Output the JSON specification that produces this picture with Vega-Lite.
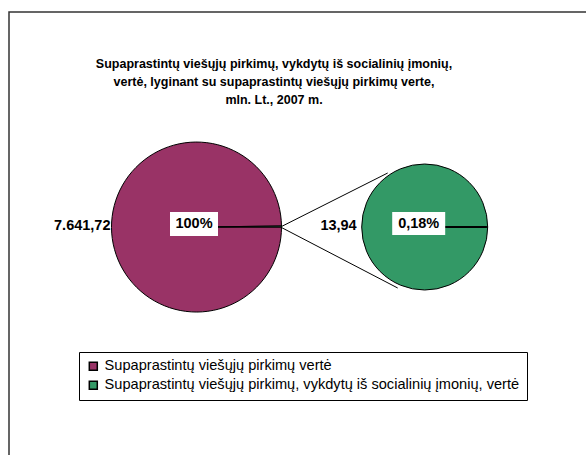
{
  "$schema": "https://vega.github.io/schema/vega-lite/v6.json",
  "width": 600,
  "height": 460,
  "autosize": {"type": "none"},
  "padding": {"left": 9, "top": 12, "right": 0, "bottom": 0},
  "background": "white",
  "title": {
    "text": ["Supaprastintų viešųjų pirkimų, vykdytų iš socialinių įmonių,", "vertė, lyginant su supaprastintų viešųjų pirkimų verte,", "mln. Lt., 2007 m."],
    "font": "Liberation Sans",
    "fontSize": 12.5,
    "fontWeight": "bold",
    "color": "black",
    "lineHeight": 18,
    "anchor": "middle",
    "frame": "group",
    "dx": -35,
    "offset": -94.5
  },
  "datasets": {
    "slices": [
      {"pie": "main", "name": "Supaprastintų viešųjų pirkimų vertė", "value": 7641.72},
      {"pie": "main", "name": "Supaprastintų viešųjų pirkimų, vykdytų iš socialinių įmonių, vertė", "value": 13.94},
      {"pie": "sub", "name": "Supaprastintų viešųjų pirkimų, vykdytų iš socialinių įmonių, vertė", "value": 13.94}
    ],
    "pies": [
      {"pie": "main", "name": "Supaprastintų viešųjų pirkimų vertė", "value": 7641.72, "share": 1},
      {"pie": "sub", "name": "Supaprastintų viešųjų pirkimų, vykdytų iš socialinių įmonių, vertė", "value": 13.94, "share": 0.0018}
    ],
    "links": [
      {"from": "main", "to": "sub"}
    ]
  },
  "layer": [
    {
      "data": {"name": "links"},
      "mark": {"type": "rule", "color": "black", "strokeWidth": 1, "xOffset": 84, "x2Offset": -37, "y2Offset": -54},
      "encoding": {
        "x": {"field": "from", "type": "nominal", "scale": {"type": "point", "domain": ["main", "sub"], "range": [187.5, 415.7], "padding": 0}, "axis": null},
        "x2": {"field": "to"},
        "y": {"field": "from", "type": "nominal", "scale": {"type": "point", "domain": ["main", "sub"], "range": [215, 215], "padding": 0}, "axis": null},
        "y2": {"field": "to"}
      }
    },
    {
      "data": {"name": "links"},
      "mark": {"type": "rule", "color": "black", "strokeWidth": 1, "xOffset": 84, "x2Offset": -27, "y2Offset": 61},
      "encoding": {
        "x": {"field": "from", "type": "nominal", "axis": null},
        "x2": {"field": "to"},
        "y": {"field": "from", "type": "nominal", "axis": null},
        "y2": {"field": "to"}
      }
    },
    {
      "data": {"name": "slices"},
      "transform": [{"filter": "datum.pie == 'main'"}],
      "mark": {"type": "arc", "radius": 85, "stroke": "black", "strokeWidth": 1},
      "encoding": {
        "x": {"field": "pie", "type": "nominal", "axis": null},
        "y": {"field": "pie", "type": "nominal", "axis": null},
        "theta": {"field": "value", "type": "quantitative", "stack": "normalize", "scale": {"range": [1.5707963, 7.8539816]}},
        "color": {
          "field": "name", "type": "nominal",
          "scale": {"domain": ["Supaprastintų viešųjų pirkimų vertė", "Supaprastintų viešųjų pirkimų, vykdytų iš socialinių įmonių, vertė"], "range": ["#993366", "#339966"]},
          "legend": {
            "title": null,
            "orient": "none",
            "legendX": 70,
            "legendY": 340,
            "padding": 7,
            "strokeColor": "black",
            "fillColor": "white",
            "symbolType": "square",
            "symbolSize": 64,
            "symbolStrokeColor": "black",
            "symbolStrokeWidth": 1.5,
            "labelFont": "Liberation Sans",
            "labelFontSize": 14.6,
            "labelColor": "black",
            "labelLimit": 600,
            "labelOffset": 4,
            "rowPadding": 3
          }
        }
      }
    },
    {
      "data": {"name": "slices"},
      "transform": [{"filter": "datum.pie == 'sub'"}],
      "mark": {"type": "arc", "radius": 63, "stroke": "black", "strokeWidth": 1},
      "encoding": {
        "x": {"field": "pie", "type": "nominal", "axis": null},
        "y": {"field": "pie", "type": "nominal", "axis": null},
        "theta": {"field": "value", "type": "quantitative", "stack": "normalize"},
        "color": {"field": "name", "type": "nominal"}
      }
    },
    {
      "data": {"name": "pies"},
      "transform": [{"filter": "datum.pie == 'sub'"}],
      "mark": {"type": "rule", "color": "black", "strokeWidth": 2, "x2Offset": 62},
      "encoding": {
        "x": {"field": "pie", "type": "nominal", "axis": null},
        "x2": {"field": "pie"},
        "y": {"field": "pie", "type": "nominal", "axis": null},
        "y2": {"field": "pie"}
      }
    },
    {
      "data": {"name": "pies"},
      "transform": [{"filter": "datum.pie == 'main'"}],
      "mark": {"type": "point", "filled": true, "fill": "white", "opacity": 1, "strokeWidth": 0, "shape": "M-1,-0.5H1V0.5H-1Z", "size": 2304, "xOffset": -2.5, "yOffset": -3},
      "encoding": {
        "x": {"field": "pie", "type": "nominal", "axis": null},
        "y": {"field": "pie", "type": "nominal", "axis": null}
      }
    },
    {
      "data": {"name": "pies"},
      "transform": [{"filter": "datum.pie == 'sub'"}],
      "mark": {"type": "point", "filled": true, "fill": "white", "opacity": 1, "strokeWidth": 0, "shape": "M-1,-0.434H1V0.434H-1Z", "size": 2809, "xOffset": -6, "yOffset": -3.5},
      "encoding": {
        "x": {"field": "pie", "type": "nominal", "axis": null},
        "y": {"field": "pie", "type": "nominal", "axis": null}
      }
    },
    {
      "data": {"name": "pies"},
      "transform": [{"filter": "datum.pie == 'main'"}],
      "mark": {"type": "text", "font": "Liberation Sans", "fontSize": 14.5, "fontWeight": "bold", "color": "black", "align": "center", "baseline": "middle", "xOffset": -2.5, "yOffset": -3},
      "encoding": {
        "x": {"field": "pie", "type": "nominal", "axis": null},
        "y": {"field": "pie", "type": "nominal", "axis": null},
        "text": {"field": "share", "type": "quantitative", "format": ".2~%"}
      }
    },
    {
      "data": {"name": "pies"},
      "transform": [{"filter": "datum.pie == 'sub'"}],
      "mark": {"type": "text", "font": "Liberation Sans", "fontSize": 14.5, "fontWeight": "bold", "color": "black", "align": "center", "baseline": "middle", "xOffset": -6, "yOffset": -3.5},
      "encoding": {
        "x": {"field": "pie", "type": "nominal", "axis": null},
        "y": {"field": "pie", "type": "nominal", "axis": null},
        "text": {"field": "share", "type": "quantitative", "format": ".2~%"}
      }
    },
    {
      "data": {"name": "pies"},
      "transform": [{"filter": "datum.pie == 'main'"}],
      "mark": {"type": "text", "font": "Liberation Sans", "fontSize": 14.5, "fontWeight": "bold", "color": "black", "align": "right", "baseline": "middle", "xOffset": -86, "yOffset": -1},
      "encoding": {
        "x": {"field": "pie", "type": "nominal", "axis": null},
        "y": {"field": "pie", "type": "nominal", "axis": null},
        "text": {"field": "value", "type": "quantitative", "format": ",.2f"}
      }
    },
    {
      "data": {"name": "pies"},
      "transform": [{"filter": "datum.pie == 'sub'"}],
      "mark": {"type": "text", "font": "Liberation Sans", "fontSize": 14.5, "fontWeight": "bold", "color": "black", "align": "right", "baseline": "middle", "xOffset": -68, "yOffset": -1},
      "encoding": {
        "x": {"field": "pie", "type": "nominal", "axis": null},
        "y": {"field": "pie", "type": "nominal", "axis": null},
        "text": {"field": "value", "type": "quantitative", "format": ",.2f"}
      }
    }
  ],
  "config": {
    "font": "Liberation Sans",
    "view": {"stroke": "#333333", "strokeWidth": 1.5},
    "locale": {"number": {"decimal": ",", "thousands": ".", "grouping": [3], "currency": ["", ""]}}
  }
}
